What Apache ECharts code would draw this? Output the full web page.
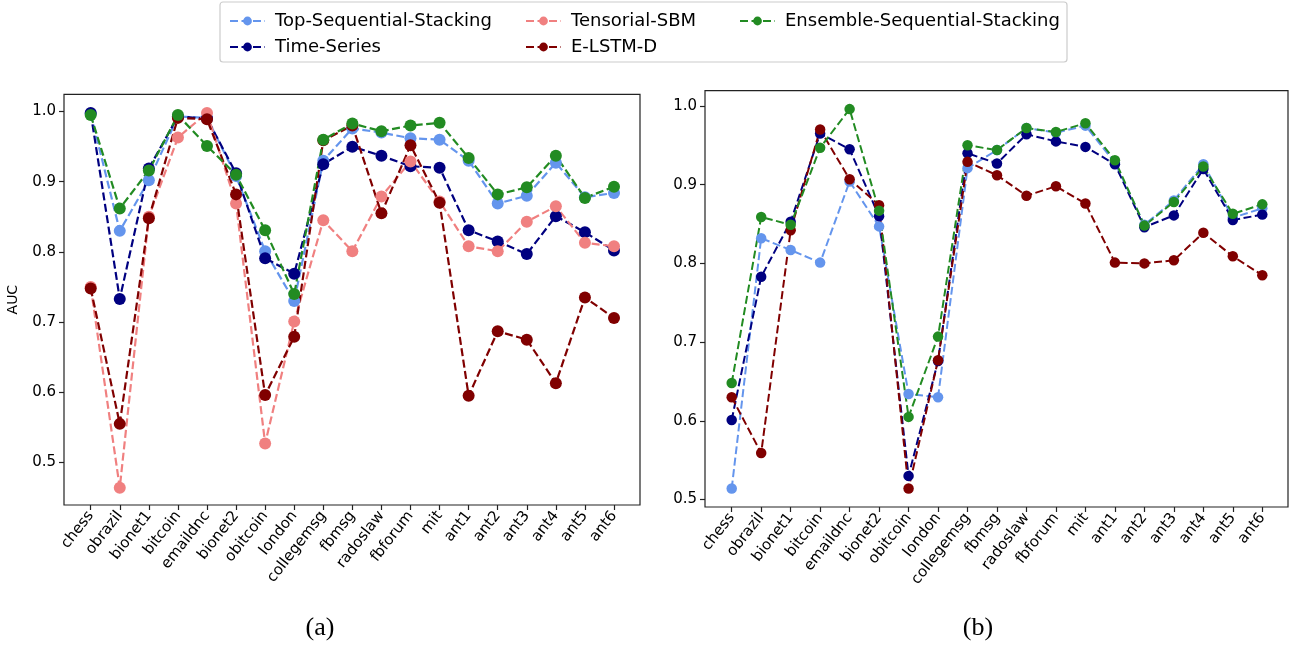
<!DOCTYPE html>
<html>
<head>
<meta charset="utf-8">
<script src="https://cdn.jsdelivr.net/npm/echarts@6/dist/echarts.min.js"></script>
<style>
  html, body { margin: 0; padding: 0; background: #fff; }
  #chart { width: 1290px; height: 646px; }
</style>
</head>
<body>
<div id="chart"></div>
<script>
const categories = ['chess','obrazil','bionet1','bitcoin','emaildnc','bionet2','obitcoin','london','collegemsg','fbmsg','radoslaw','fbforum','mit','ant1','ant2','ant3','ant4','ant5','ant6'];
const yTicks = [0.5, 0.6, 0.7, 0.8, 0.9, 1.0];

// Panel (a)
const topSeqA     = [0.997, 0.830, 0.902, 0.993, 0.991, 0.908, 0.801, 0.730, 0.930, 0.976, 0.970, 0.962, 0.960, 0.930, 0.869, 0.880, 0.927, 0.878, 0.884];
const timeSeriesA = [0.998, 0.733, 0.919, 0.993, 0.990, 0.912, 0.791, 0.769, 0.925, 0.950, 0.937, 0.922, 0.920, 0.831, 0.815, 0.797, 0.851, 0.828, 0.802];
const tensorialA  = [0.750, 0.464, 0.850, 0.963, 0.998, 0.869, 0.527, 0.701, 0.845, 0.801, 0.879, 0.929, 0.872, 0.808, 0.801, 0.843, 0.865, 0.813, 0.808];
const elstmA      = [0.748, 0.555, 0.848, 0.991, 0.989, 0.882, 0.596, 0.679, 0.959, 0.980, 0.855, 0.952, 0.870, 0.595, 0.687, 0.675, 0.613, 0.735, 0.706];
const ensembleA   = [0.995, 0.862, 0.916, 0.995, 0.951, 0.910, 0.831, 0.740, 0.960, 0.983, 0.972, 0.980, 0.984, 0.934, 0.882, 0.892, 0.937, 0.877, 0.893];

// Panel (b)
const topSeqB     = [0.514, 0.832, 0.817, 0.801, 0.904, 0.847, 0.634, 0.630, 0.921, 0.944, 0.972, 0.966, 0.975, 0.928, 0.849, 0.880, 0.926, 0.858, 0.870];
const timeSeriesB = [0.601, 0.783, 0.853, 0.965, 0.945, 0.860, 0.530, 0.676, 0.940, 0.927, 0.964, 0.955, 0.948, 0.926, 0.846, 0.861, 0.920, 0.855, 0.862];
const elstmB      = [0.630, 0.559, 0.842, 0.970, 0.907, 0.874, 0.514, 0.677, 0.929, 0.912, 0.886, 0.898, 0.876, 0.801, 0.800, 0.804, 0.839, 0.809, 0.785];
const ensembleB   = [0.648, 0.859, 0.849, 0.947, 0.996, 0.867, 0.605, 0.707, 0.950, 0.944, 0.972, 0.967, 0.978, 0.931, 0.848, 0.878, 0.923, 0.863, 0.875];

const COLORS = {
  'Top-Sequential-Stacking': '#6495ED',
  'Time-Series': '#000080',
  'Tensorial-SBM': '#F08080',
  'E-LSTM-D': '#800000',
  'Ensemble-Sequential-Stacking': '#228B22'
};
const FONT = 'DejaVu Sans';
const AX = '#222';

function xAxis(gridIndex, rot) {
  return {
    type: 'category', gridIndex: gridIndex, data: categories, boundaryGap: false,
    splitLine: { show: false },
    axisLine: { show: false, onZero: false },
    axisTick: { show: true, length: 5, alignWithLabel: true, interval: 0, lineStyle: { color: AX, width: 1.2 } },
    axisLabel: { interval: 0, rotate: rot, margin: 8, color: '#000', fontFamily: FONT, fontSize: 15 }
  };
}
function yAxis(gridIndex, min, max, offset, name) {
  return {
    type: 'value', gridIndex: gridIndex, min: min, max: max, offset: offset,
    name: name || '', nameLocation: 'middle', nameGap: 44,
    nameTextStyle: { fontFamily: FONT, fontSize: 14, color: '#000' },
    splitLine: { show: false },
    axisLine: { show: false, onZero: false },
    axisTick: { show: true, length: 5, customValues: yTicks, lineStyle: { color: AX, width: 1.2 } },
    axisLabel: { customValues: yTicks, margin: 8, color: '#000', fontFamily: FONT, fontSize: 15, formatter: v => v.toFixed(1) }
  };
}
function series(name, values, gi, size, lw) {
  return {
    name: name, type: 'line', xAxisIndex: gi, yAxisIndex: gi,
    data: values,
    symbol: 'circle', symbolSize: size, showSymbol: true,
    lineStyle: { color: COLORS[name], width: lw, type: [8, 3.5] },
    itemStyle: { color: COLORS[name] },
    emphasis: { disabled: true },
    z: 2
  };
}

const legendCommon = {
  orient: 'vertical', itemWidth: 35, itemHeight: 11, itemGap: 6,
  textStyle: { fontFamily: FONT, fontSize: 18, color: '#000', lineHeight: 20, padding: [0, 0, 0, 5] },
  selectedMode: false
};

const A = { l: 90.7, r: 614, fl: 64, fr: 640, t: 94.3, b: 505 };
const B = { l: 731.7, r: 1262.3, fl: 705, fr: 1288, t: 90.7, b: 507 };
const W = 1290, H = 646;

const chart = echarts.init(document.getElementById('chart'), null, { renderer: 'canvas' });
chart.setOption({
  animation: false,
  backgroundColor: '#fff',
  grid: [
    { left: A.l, top: A.t, right: W - A.r, bottom: H - A.b, show: false },
    { left: B.l, top: B.t, right: W - B.r, bottom: H - B.b, show: false },
    { left: A.fl, top: A.t, right: W - A.fr, bottom: H - A.b, show: true, borderColor: AX, borderWidth: 1.2, backgroundColor: 'transparent', z: 3 },
    { left: B.fl, top: B.t, right: W - B.fr, bottom: H - B.b, show: true, borderColor: AX, borderWidth: 1.2, backgroundColor: 'transparent', z: 3 }
  ],
  xAxis: [xAxis(0, 52), xAxis(1, 52)],
  yAxis: [yAxis(0, 0.4394, 1.0246, A.l - A.fl, 'AUC'), yAxis(1, 0.4905, 1.0194, B.l - B.fl)],
  legend: [
    Object.assign({ left: 224, top: 6, data: ['Top-Sequential-Stacking', 'Time-Series'] }, legendCommon),
    Object.assign({ left: 520, top: 6, data: ['Tensorial-SBM', 'E-LSTM-D'] }, legendCommon),
    Object.assign({ left: 734, top: 6, data: ['Ensemble-Sequential-Stacking'] }, legendCommon)
  ],
  graphic: [
    { type: 'rect', z: -1, shape: { x: 220, y: 2, width: 847, height: 60, r: 3 }, style: { fill: '#fff', stroke: '#cccccc', lineWidth: 1.2 } },
    { type: 'text', x: 320, y: 628, style: { text: '(a)', font: '26px "Liberation Serif"', fill: '#000', textAlign: 'center', textVerticalAlign: 'middle' } },
    { type: 'text', x: 978, y: 628, style: { text: '(b)', font: '26px "Liberation Serif"', fill: '#000', textAlign: 'center', textVerticalAlign: 'middle' } }
  ],
  series: [
    series('Top-Sequential-Stacking', topSeqA, 0, 12, 2.2),
    series('Time-Series', timeSeriesA, 0, 12, 2.2),
    series('Tensorial-SBM', tensorialA, 0, 12, 2.2),
    series('E-LSTM-D', elstmA, 0, 12, 2.2),
    series('Ensemble-Sequential-Stacking', ensembleA, 0, 12, 2.2),
    series('Top-Sequential-Stacking', topSeqB, 1, 10.5, 2),
    series('Time-Series', timeSeriesB, 1, 10.5, 2),
    series('E-LSTM-D', elstmB, 1, 10.5, 2),
    series('Ensemble-Sequential-Stacking', ensembleB, 1, 10.5, 2)
  ]
});
</script>
</body>
</html>
